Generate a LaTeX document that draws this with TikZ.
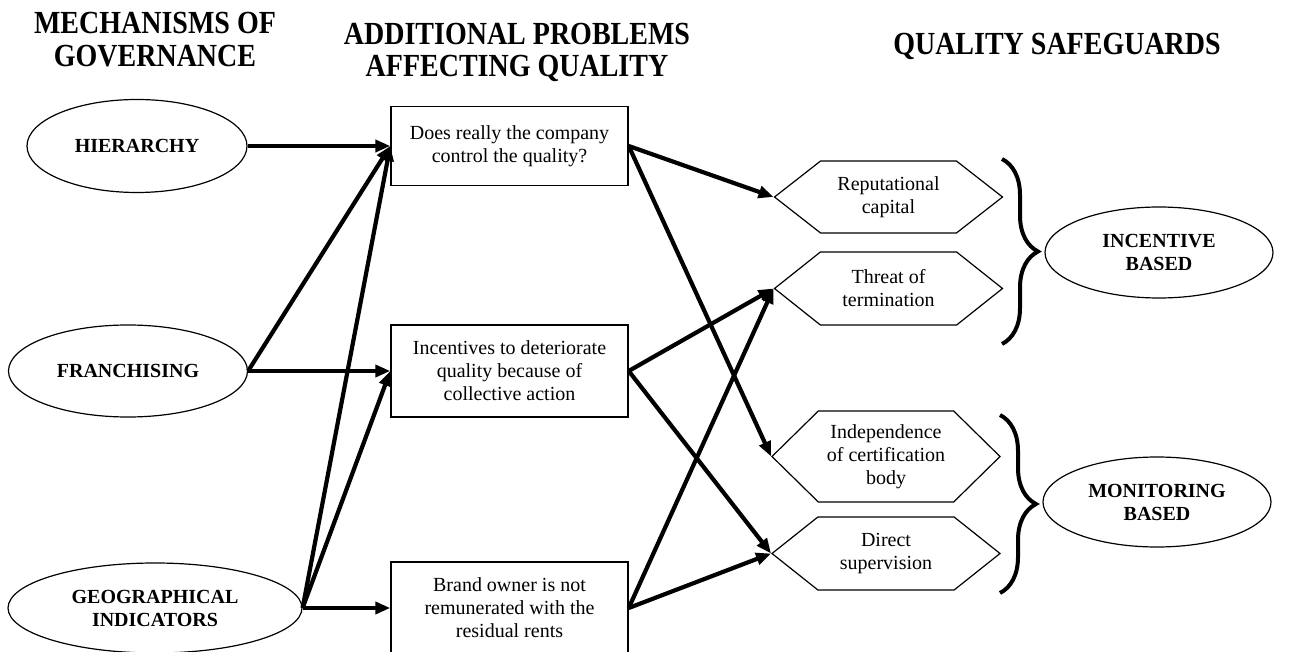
\documentclass[tikz,border=0pt]{standalone}
\usepackage{fontspec}
\setmainfont{Liberation Serif}
\usetikzlibrary{arrows.meta,shapes.geometric,shapes.symbols,decorations.pathreplacing}

% tall bold heading text, possibly on several lines
\newcommand{\tallhead}[1]{\scalebox{1}[1.15]{\begin{tabular}{@{}c@{}}#1\end{tabular}}}

\begin{document}
\begin{tikzpicture}[x=1pt,y=-1pt,
  heading/.style={font=\fontsize{28}{28}\selectfont\bfseries, inner sep=0pt},
  oval/.style={ellipse, draw, line width=1.2pt, inner sep=0pt,
    font=\fontsize{20}{23}\selectfont\bfseries, align=center},
  issue/.style={rectangle, draw, line width=1.4pt, minimum width=237pt, inner sep=0pt,
    font=\fontsize{20}{23}\selectfont, align=center},
  guard/.style={signal, signal to=west and east, draw, line width=1.2pt,
    minimum width=228pt, inner sep=0pt, font=\fontsize{20}{23}\selectfont, align=center},
  flow/.style={line width=4.2pt, -{Triangle[length=15pt,width=12pt]}},
  grp/.style={line width=4pt, decorate, decoration={brace, amplitude=36pt}}
]
\useasboundingbox[fill=white] (0,0) rectangle (1304,652);
\clip (0,0) rectangle (1304,652);

% column headings
\node[heading] (h1) at (155,43.5) {\tallhead{MECHANISMS OF\\GOVERNANCE}};
\node[heading] (h2) at (517,54) {\tallhead{ADDITIONAL PROBLEMS\\AFFECTING QUALITY}};
\node[heading] (h3) at (1057,48) {\tallhead{QUALITY SAFEGUARDS}};

% mechanisms of governance
\node[oval, minimum width=220pt, minimum height=93pt] (hier) at (137,146) {HIERARCHY};
\node[oval, minimum width=239pt, minimum height=92pt] (fran) at (128,371) {FRANCHISING};
\node[oval, minimum width=294pt, minimum height=90pt] (geo) at (155,608) {GEOGRAPHICAL\\INDICATORS};

% additional problems
\node[issue, minimum height=79pt] (p1) at (509.5,146) {Does really the company\\control the quality?};
\node[issue, minimum height=92pt] (p2) at (509.5,371) {Incentives to deteriorate\\quality because of\\collective action};
\node[issue, minimum height=92pt] (p3) at (509.5,608) {Brand owner is not\\remunerated with the\\residual rents};

% quality safeguards
\node[guard, minimum height=72pt, signal pointer angle=76] (rep) at (888.5,197) {Reputational\\capital};
\node[guard, minimum height=73pt, signal pointer angle=77] (thr) at (888.5,288.5) {Threat of\\termination};
\node[guard, minimum height=91pt, signal pointer angle=89] (ind) at (886,456.5) {Independence\\of certification\\body};
\node[guard, minimum height=73pt, signal pointer angle=77] (dir) at (886,553.5) {Direct\\supervision};

% safeguard types
\node[oval, minimum width=228pt, minimum height=91pt] (inc) at (1159,252.5) {INCENTIVE\\BASED};
\node[oval, minimum width=228pt, minimum height=90pt] (mon) at (1157,502) {MONITORING\\BASED};

% grouping braces
\coordinate (b1t) at (1002,159);
\coordinate (b1b) at (1002,344);
\coordinate (b2t) at (1000,415);
\coordinate (b2b) at (1000,593);
\draw[grp] (b1t) -- (b1b);
\draw[grp] (b2t) -- (b2b);

% links from mechanisms to problems
\draw[flow] (hier.east) -- (p1.west);
\draw[flow] (fran.east) -- (p1.west);
\draw[flow] (fran.east) -- (p2.west);
\draw[flow] (geo.east) -- (p1.west);
\draw[flow] (geo.east) -- (p2.west);
\draw[flow] (geo.east) -- (p3.west);

% links from problems to safeguards
\draw[flow] (p1.east) -- (rep.west);
\draw[flow] (p1.east) -- (ind.west);
\draw[flow] (p2.east) -- (thr.west);
\draw[flow] (p2.east) -- (dir.west);
\draw[flow] (p3.east) -- (thr.west);
\draw[flow] (p3.east) -- (dir.west);
\end{tikzpicture}
\end{document}
